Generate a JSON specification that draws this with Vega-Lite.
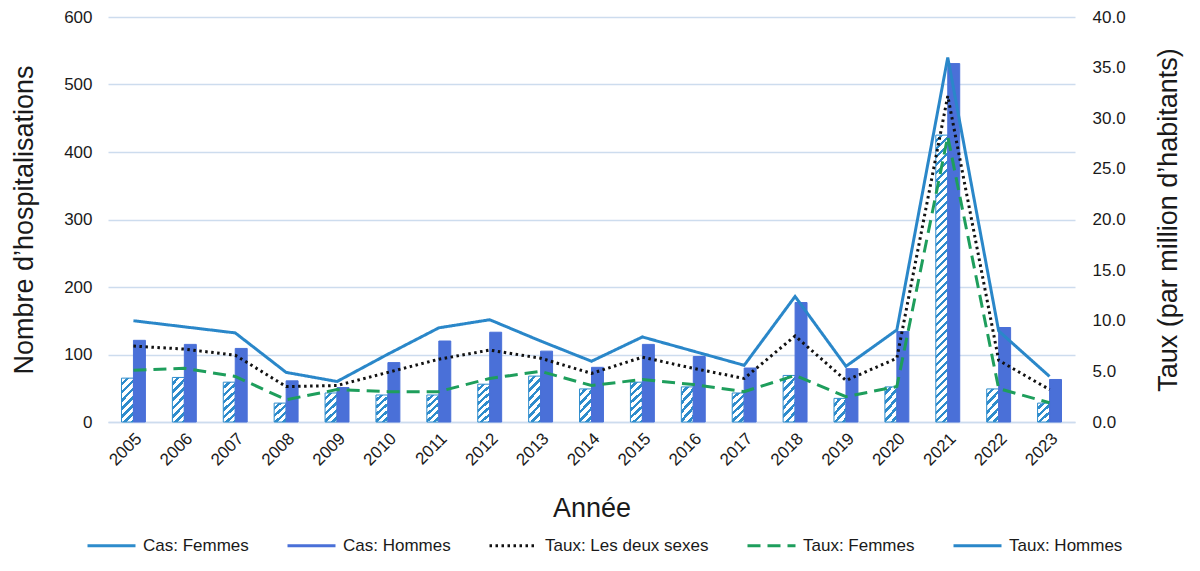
{
"$schema":"https://vega.github.io/schema/vega-lite/v6.json",
"width":967,"height":405,
"autosize":{"type":"none"},
"padding":{"left":108,"top":17,"right":125,"bottom":149},
"background":"white",
"config":{"font":"Liberation Sans","view":{"stroke":null},
 "axis":{"labelFont":"Liberation Sans","titleFont":"Liberation Sans","labelColor":"#1a1a1a","titleColor":"#1a1a1a","titleFontWeight":"normal","ticks":false,"domain":false,"gridColor":"#cddcee","gridWidth":1.3,"labelFontSize":17,"titleFontSize":27}},
"data":{"values":[
{"annee":"2005","serie":"Cas: Femmes","valeur":65},{"annee":"2005","serie":"Cas: Hommes","valeur":121},{"annee":"2005","serie":"Taux: Les deux sexes","valeur":7.5},{"annee":"2005","serie":"Taux: Femmes","valeur":5.1},{"annee":"2005","serie":"Taux: Hommes","valeur":10.0},
{"annee":"2006","serie":"Cas: Femmes","valeur":66},{"annee":"2006","serie":"Cas: Hommes","valeur":115},{"annee":"2006","serie":"Taux: Les deux sexes","valeur":7.2},{"annee":"2006","serie":"Taux: Femmes","valeur":5.3},{"annee":"2006","serie":"Taux: Hommes","valeur":9.4},
{"annee":"2007","serie":"Cas: Femmes","valeur":59},{"annee":"2007","serie":"Cas: Hommes","valeur":109},{"annee":"2007","serie":"Taux: Les deux sexes","valeur":6.6},{"annee":"2007","serie":"Taux: Femmes","valeur":4.5},{"annee":"2007","serie":"Taux: Hommes","valeur":8.8},
{"annee":"2008","serie":"Cas: Femmes","valeur":28},{"annee":"2008","serie":"Cas: Hommes","valeur":61},{"annee":"2008","serie":"Taux: Les deux sexes","valeur":3.5},{"annee":"2008","serie":"Taux: Femmes","valeur":2.2},{"annee":"2008","serie":"Taux: Hommes","valeur":4.9},
{"annee":"2009","serie":"Cas: Femmes","valeur":43},{"annee":"2009","serie":"Cas: Hommes","valeur":51},{"annee":"2009","serie":"Taux: Les deux sexes","valeur":3.6},{"annee":"2009","serie":"Taux: Femmes","valeur":3.2},{"annee":"2009","serie":"Taux: Hommes","valeur":4.0},
{"annee":"2010","serie":"Cas: Femmes","valeur":40},{"annee":"2010","serie":"Cas: Hommes","valeur":88},{"annee":"2010","serie":"Taux: Les deux sexes","valeur":4.9},{"annee":"2010","serie":"Taux: Femmes","valeur":3.0},{"annee":"2010","serie":"Taux: Hommes","valeur":6.7},
{"annee":"2011","serie":"Cas: Femmes","valeur":40},{"annee":"2011","serie":"Cas: Hommes","valeur":120},{"annee":"2011","serie":"Taux: Les deux sexes","valeur":6.2},{"annee":"2011","serie":"Taux: Femmes","valeur":3.0},{"annee":"2011","serie":"Taux: Hommes","valeur":9.3},
{"annee":"2012","serie":"Cas: Femmes","valeur":56},{"annee":"2012","serie":"Cas: Hommes","valeur":133},{"annee":"2012","serie":"Taux: Les deux sexes","valeur":7.1},{"annee":"2012","serie":"Taux: Femmes","valeur":4.3},{"annee":"2012","serie":"Taux: Hommes","valeur":10.1},
{"annee":"2013","serie":"Cas: Femmes","valeur":68},{"annee":"2013","serie":"Cas: Hommes","valeur":105},{"annee":"2013","serie":"Taux: Les deux sexes","valeur":6.3},{"annee":"2013","serie":"Taux: Femmes","valeur":5.0},{"annee":"2013","serie":"Taux: Hommes","valeur":8.0},
{"annee":"2014","serie":"Cas: Femmes","valeur":49},{"annee":"2014","serie":"Cas: Hommes","valeur":81},{"annee":"2014","serie":"Taux: Les deux sexes","valeur":4.8},{"annee":"2014","serie":"Taux: Femmes","valeur":3.6},{"annee":"2014","serie":"Taux: Hommes","valeur":6.0},
{"annee":"2015","serie":"Cas: Femmes","valeur":59},{"annee":"2015","serie":"Cas: Hommes","valeur":115},{"annee":"2015","serie":"Taux: Les deux sexes","valeur":6.4},{"annee":"2015","serie":"Taux: Femmes","valeur":4.2},{"annee":"2015","serie":"Taux: Hommes","valeur":8.4},
{"annee":"2016","serie":"Cas: Femmes","valeur":52},{"annee":"2016","serie":"Cas: Hommes","valeur":97},{"annee":"2016","serie":"Taux: Les deux sexes","valeur":5.3},{"annee":"2016","serie":"Taux: Femmes","valeur":3.7},{"annee":"2016","serie":"Taux: Hommes","valeur":7.0},
{"annee":"2017","serie":"Cas: Femmes","valeur":43},{"annee":"2017","serie":"Cas: Hommes","valeur":80},{"annee":"2017","serie":"Taux: Les deux sexes","valeur":4.3},{"annee":"2017","serie":"Taux: Femmes","valeur":3.0},{"annee":"2017","serie":"Taux: Hommes","valeur":5.6},
{"annee":"2018","serie":"Cas: Femmes","valeur":69},{"annee":"2018","serie":"Cas: Hommes","valeur":177},{"annee":"2018","serie":"Taux: Les deux sexes","valeur":8.5},{"annee":"2018","serie":"Taux: Femmes","valeur":4.6},{"annee":"2018","serie":"Taux: Hommes","valeur":12.4},
{"annee":"2019","serie":"Cas: Femmes","valeur":35},{"annee":"2019","serie":"Cas: Hommes","valeur":79},{"annee":"2019","serie":"Taux: Les deux sexes","valeur":4.1},{"annee":"2019","serie":"Taux: Femmes","valeur":2.5},{"annee":"2019","serie":"Taux: Hommes","valeur":5.5},
{"annee":"2020","serie":"Cas: Femmes","valeur":52},{"annee":"2020","serie":"Cas: Hommes","valeur":134},{"annee":"2020","serie":"Taux: Les deux sexes","valeur":6.3},{"annee":"2020","serie":"Taux: Femmes","valeur":3.5},{"annee":"2020","serie":"Taux: Hommes","valeur":9.1},
{"annee":"2021","serie":"Cas: Femmes","valeur":425},{"annee":"2021","serie":"Cas: Hommes","valeur":531},{"annee":"2021","serie":"Taux: Les deux sexes","valeur":32.2},{"annee":"2021","serie":"Taux: Femmes","valeur":28.2},{"annee":"2021","serie":"Taux: Hommes","valeur":36.0},
{"annee":"2022","serie":"Cas: Femmes","valeur":49},{"annee":"2022","serie":"Cas: Hommes","valeur":140},{"annee":"2022","serie":"Taux: Les deux sexes","valeur":6.1},{"annee":"2022","serie":"Taux: Femmes","valeur":3.3},{"annee":"2022","serie":"Taux: Hommes","valeur":9.0},
{"annee":"2023","serie":"Cas: Femmes","valeur":28},{"annee":"2023","serie":"Cas: Hommes","valeur":63},{"annee":"2023","serie":"Taux: Les deux sexes","valeur":3.2},{"annee":"2023","serie":"Taux: Femmes","valeur":1.9},{"annee":"2023","serie":"Taux: Hommes","valeur":4.5}
]},
"encoding":{"x":{"field":"annee","type":"ordinal","scale":{"paddingInner":0.53,"paddingOuter":0.265},
 "axis":{"title":"Année","labelAngle":-45,"labelPadding":8,"titlePadding":27,"domain":true,"domainColor":"#cddcee","domainWidth":1.3,"grid":false}}},
"layer":[
{"transform":[{"filter":"indexof(datum.serie,'Cas')==0"}],
 "mark":{"type":"bar","strokeWidth":1},
 "encoding":{
  "xOffset":{"field":"serie","type":"nominal","scale":{"paddingInner":0,"paddingOuter":0}},
  "y":{"field":"valeur","type":"quantitative","scale":{"domain":[0,600]},
   "axis":{"title":"Nombre d’hospitalisations","values":[0,100,200,300,400,500,600],"labelPadding":16,"titlePadding":25,"grid":true}},
  "stroke":{"condition":{"test":"datum.serie=='Cas: Femmes'","value":"#2e8ccc"},"value":"#4a70d8"},
  "fill":{"condition":[
   {"test":"datum.serie=='Cas: Hommes'","value":"#4a70d8"},
   {"test":"datum.valeur<=36","value":{"gradient":"linear","x1":0,"y1":0,"x2":0.677,"y2":1.185,"stops":[{"offset":0,"color":"#fff"},{"offset":0.1333,"color":"#fff"},{"offset":0.1333,"color":"#2e8ccc"},{"offset":0.2424,"color":"#2e8ccc"},{"offset":0.2424,"color":"#fff"},{"offset":0.3757,"color":"#fff"},{"offset":0.3757,"color":"#2e8ccc"},{"offset":0.4848,"color":"#2e8ccc"},{"offset":0.4848,"color":"#fff"},{"offset":0.6181,"color":"#fff"},{"offset":0.6181,"color":"#2e8ccc"},{"offset":0.7272,"color":"#2e8ccc"},{"offset":0.7272,"color":"#fff"},{"offset":0.8605,"color":"#fff"},{"offset":0.8605,"color":"#2e8ccc"},{"offset":0.9696,"color":"#2e8ccc"},{"offset":0.9696,"color":"#fff"},{"offset":1,"color":"#fff"}]}},
   {"test":"datum.valeur<=53","value":{"gradient":"linear","x1":0,"y1":0,"x2":0.467,"y2":1.206,"stops":[{"offset":0,"color":"#fff"},{"offset":0.1023,"color":"#fff"},{"offset":0.1023,"color":"#2e8ccc"},{"offset":0.186,"color":"#2e8ccc"},{"offset":0.186,"color":"#fff"},{"offset":0.2883,"color":"#fff"},{"offset":0.2883,"color":"#2e8ccc"},{"offset":0.372,"color":"#2e8ccc"},{"offset":0.372,"color":"#fff"},{"offset":0.4743,"color":"#fff"},{"offset":0.4743,"color":"#2e8ccc"},{"offset":0.558,"color":"#2e8ccc"},{"offset":0.558,"color":"#fff"},{"offset":0.6603,"color":"#fff"},{"offset":0.6603,"color":"#2e8ccc"},{"offset":0.744,"color":"#2e8ccc"},{"offset":0.744,"color":"#fff"},{"offset":0.8463,"color":"#fff"},{"offset":0.8463,"color":"#2e8ccc"},{"offset":0.93,"color":"#2e8ccc"},{"offset":0.93,"color":"#fff"},{"offset":1,"color":"#fff"}]}},
   {"test":"datum.valeur>200","value":{"gradient":"linear","x1":0,"y1":0,"x2":0.0435,"y2":1.04,"stops":[
{"offset":0,"color":"#fff"},{"offset":0.0147,"color":"#fff"},{"offset":0.0147,"color":"#2e8ccc"},{"offset":0.0268,"color":"#2e8ccc"},
{"offset":0.0268,"color":"#fff"},{"offset":0.0415,"color":"#fff"},{"offset":0.0415,"color":"#2e8ccc"},{"offset":0.0535,"color":"#2e8ccc"},
{"offset":0.0535,"color":"#fff"},{"offset":0.0682,"color":"#fff"},{"offset":0.0682,"color":"#2e8ccc"},{"offset":0.0803,"color":"#2e8ccc"},
{"offset":0.0803,"color":"#fff"},{"offset":0.095,"color":"#fff"},{"offset":0.095,"color":"#2e8ccc"},{"offset":0.107,"color":"#2e8ccc"},
{"offset":0.107,"color":"#fff"},{"offset":0.1217,"color":"#fff"},{"offset":0.1217,"color":"#2e8ccc"},{"offset":0.1338,"color":"#2e8ccc"},
{"offset":0.1338,"color":"#fff"},{"offset":0.1485,"color":"#fff"},{"offset":0.1485,"color":"#2e8ccc"},{"offset":0.1606,"color":"#2e8ccc"},
{"offset":0.1606,"color":"#fff"},{"offset":0.1753,"color":"#fff"},{"offset":0.1753,"color":"#2e8ccc"},{"offset":0.1873,"color":"#2e8ccc"},
{"offset":0.1873,"color":"#fff"},{"offset":0.202,"color":"#fff"},{"offset":0.202,"color":"#2e8ccc"},{"offset":0.2141,"color":"#2e8ccc"},
{"offset":0.2141,"color":"#fff"},{"offset":0.2288,"color":"#fff"},{"offset":0.2288,"color":"#2e8ccc"},{"offset":0.2408,"color":"#2e8ccc"},
{"offset":0.2408,"color":"#fff"},{"offset":0.2555,"color":"#fff"},{"offset":0.2555,"color":"#2e8ccc"},{"offset":0.2676,"color":"#2e8ccc"},
{"offset":0.2676,"color":"#fff"},{"offset":0.2823,"color":"#fff"},{"offset":0.2823,"color":"#2e8ccc"},{"offset":0.2944,"color":"#2e8ccc"},
{"offset":0.2944,"color":"#fff"},{"offset":0.3091,"color":"#fff"},{"offset":0.3091,"color":"#2e8ccc"},{"offset":0.3211,"color":"#2e8ccc"},
{"offset":0.3211,"color":"#fff"},{"offset":0.3358,"color":"#fff"},{"offset":0.3358,"color":"#2e8ccc"},{"offset":0.3479,"color":"#2e8ccc"},
{"offset":0.3479,"color":"#fff"},{"offset":0.3626,"color":"#fff"},{"offset":0.3626,"color":"#2e8ccc"},{"offset":0.3746,"color":"#2e8ccc"},
{"offset":0.3746,"color":"#fff"},{"offset":0.3893,"color":"#fff"},{"offset":0.3893,"color":"#2e8ccc"},{"offset":0.4014,"color":"#2e8ccc"},
{"offset":0.4014,"color":"#fff"},{"offset":0.4161,"color":"#fff"},{"offset":0.4161,"color":"#2e8ccc"},{"offset":0.4282,"color":"#2e8ccc"},
{"offset":0.4282,"color":"#fff"},{"offset":0.4429,"color":"#fff"},{"offset":0.4429,"color":"#2e8ccc"},{"offset":0.4549,"color":"#2e8ccc"},
{"offset":0.4549,"color":"#fff"},{"offset":0.4696,"color":"#fff"},{"offset":0.4696,"color":"#2e8ccc"},{"offset":0.4817,"color":"#2e8ccc"},
{"offset":0.4817,"color":"#fff"},{"offset":0.4964,"color":"#fff"},{"offset":0.4964,"color":"#2e8ccc"},{"offset":0.5084,"color":"#2e8ccc"},
{"offset":0.5084,"color":"#fff"},{"offset":0.5231,"color":"#fff"},{"offset":0.5231,"color":"#2e8ccc"},{"offset":0.5352,"color":"#2e8ccc"},
{"offset":0.5352,"color":"#fff"},{"offset":0.5499,"color":"#fff"},{"offset":0.5499,"color":"#2e8ccc"},{"offset":0.562,"color":"#2e8ccc"},
{"offset":0.562,"color":"#fff"},{"offset":0.5767,"color":"#fff"},{"offset":0.5767,"color":"#2e8ccc"},{"offset":0.5887,"color":"#2e8ccc"},
{"offset":0.5887,"color":"#fff"},{"offset":0.6034,"color":"#fff"},{"offset":0.6034,"color":"#2e8ccc"},{"offset":0.6155,"color":"#2e8ccc"},
{"offset":0.6155,"color":"#fff"},{"offset":0.6302,"color":"#fff"},{"offset":0.6302,"color":"#2e8ccc"},{"offset":0.6422,"color":"#2e8ccc"},
{"offset":0.6422,"color":"#fff"},{"offset":0.6569,"color":"#fff"},{"offset":0.6569,"color":"#2e8ccc"},{"offset":0.669,"color":"#2e8ccc"},
{"offset":0.669,"color":"#fff"},{"offset":0.6837,"color":"#fff"},{"offset":0.6837,"color":"#2e8ccc"},{"offset":0.6958,"color":"#2e8ccc"},
{"offset":0.6958,"color":"#fff"},{"offset":0.7105,"color":"#fff"},{"offset":0.7105,"color":"#2e8ccc"},{"offset":0.7225,"color":"#2e8ccc"},
{"offset":0.7225,"color":"#fff"},{"offset":0.7372,"color":"#fff"},{"offset":0.7372,"color":"#2e8ccc"},{"offset":0.7493,"color":"#2e8ccc"},
{"offset":0.7493,"color":"#fff"},{"offset":0.764,"color":"#fff"},{"offset":0.764,"color":"#2e8ccc"},{"offset":0.776,"color":"#2e8ccc"},
{"offset":0.776,"color":"#fff"},{"offset":0.7907,"color":"#fff"},{"offset":0.7907,"color":"#2e8ccc"},{"offset":0.8028,"color":"#2e8ccc"},
{"offset":0.8028,"color":"#fff"},{"offset":0.8175,"color":"#fff"},{"offset":0.8175,"color":"#2e8ccc"},{"offset":0.8296,"color":"#2e8ccc"},
{"offset":0.8296,"color":"#fff"},{"offset":0.8443,"color":"#fff"},{"offset":0.8443,"color":"#2e8ccc"},{"offset":0.8563,"color":"#2e8ccc"},
{"offset":0.8563,"color":"#fff"},{"offset":0.871,"color":"#fff"},{"offset":0.871,"color":"#2e8ccc"},{"offset":0.8831,"color":"#2e8ccc"},
{"offset":0.8831,"color":"#fff"},{"offset":0.8978,"color":"#fff"},{"offset":0.8978,"color":"#2e8ccc"},{"offset":0.9098,"color":"#2e8ccc"},
{"offset":0.9098,"color":"#fff"},{"offset":0.9245,"color":"#fff"},{"offset":0.9245,"color":"#2e8ccc"},{"offset":0.9366,"color":"#2e8ccc"},
{"offset":0.9366,"color":"#fff"},{"offset":0.9513,"color":"#fff"},{"offset":0.9513,"color":"#2e8ccc"},{"offset":0.9634,"color":"#2e8ccc"},
{"offset":0.9634,"color":"#fff"},{"offset":0.9781,"color":"#fff"},{"offset":0.9781,"color":"#2e8ccc"},{"offset":0.9901,"color":"#2e8ccc"},
{"offset":0.9901,"color":"#fff"},{"offset":1,"color":"#fff"}]}}
  ],
  "value":{"gradient":"linear","x1":0,"y1":0,"x2":0.331,"y2":1.187,"stops":[{"offset":0,"color":"#fff"},{"offset":0.08,"color":"#fff"},{"offset":0.08,"color":"#2e8ccc"},{"offset":0.1455,"color":"#2e8ccc"},{"offset":0.1455,"color":"#fff"},{"offset":0.2255,"color":"#fff"},{"offset":0.2255,"color":"#2e8ccc"},{"offset":0.2909,"color":"#2e8ccc"},{"offset":0.2909,"color":"#fff"},{"offset":0.3709,"color":"#fff"},{"offset":0.3709,"color":"#2e8ccc"},{"offset":0.4364,"color":"#2e8ccc"},{"offset":0.4364,"color":"#fff"},{"offset":0.5164,"color":"#fff"},{"offset":0.5164,"color":"#2e8ccc"},{"offset":0.5818,"color":"#2e8ccc"},{"offset":0.5818,"color":"#fff"},{"offset":0.6618,"color":"#fff"},{"offset":0.6618,"color":"#2e8ccc"},{"offset":0.7273,"color":"#2e8ccc"},{"offset":0.7273,"color":"#fff"},{"offset":0.8073,"color":"#fff"},{"offset":0.8073,"color":"#2e8ccc"},{"offset":0.8727,"color":"#2e8ccc"},{"offset":0.8727,"color":"#fff"},{"offset":0.9527,"color":"#fff"},{"offset":0.9527,"color":"#2e8ccc"},{"offset":1,"color":"#2e8ccc"}]}}
 }},
{"transform":[{"filter":"indexof(datum.serie,'Taux')==0"}],
 "mark":{"type":"line","strokeWidth":3,"strokeCap":"butt"},
 "encoding":{
  "y":{"field":"valeur","type":"quantitative","scale":{"domain":[0,40]},
   "axis":{"orient":"right","title":"Taux (par million d’habitants)","values":[0,5,10,15,20,25,30,35,40],"format":".1f","labelPadding":17,"titlePadding":30,"titleAngle":-90,"titleBaseline":"top","grid":false}},
  "color":{"field":"serie","type":"nominal",
   "scale":{"domain":["Cas: Femmes","Cas: Hommes","Taux: Les deux sexes","Taux: Femmes","Taux: Hommes"],"range":["#2e8ccc","#4a70d8","#111111","#1e9e5c","#2a87c9"]},
   "legend":{"orient":"none","legendX":-22,"legendY":503,"direction":"horizontal","title":null,"padding":0,
    "symbolSize":2304,"symbolType":"stroke","symbolStrokeWidth":3,"labelFontSize":17,"labelFont":"Liberation Sans","labelColor":"#1a1a1a","labelOffset":6,"columnPadding":32,"labelLimit":400}},
  "strokeDash":{"field":"serie","type":"nominal",
   "scale":{"domain":["Cas: Femmes","Cas: Hommes","Taux: Les deux sexes","Taux: Femmes","Taux: Hommes"],"range":[[1,0],[1,0],[2.5,3.5],[13,7],[1,0]]},
   "legend":{"orient":"none","legendX":-22,"legendY":503,"direction":"horizontal","title":null,"padding":0,
    "symbolSize":2304,"symbolType":"stroke","symbolStrokeWidth":3,"labelFontSize":17,"labelFont":"Liberation Sans","labelColor":"#1a1a1a","labelOffset":6,"columnPadding":32,"labelLimit":400}}
 }}
],
"resolve":{"scale":{"y":"independent"}}
}
